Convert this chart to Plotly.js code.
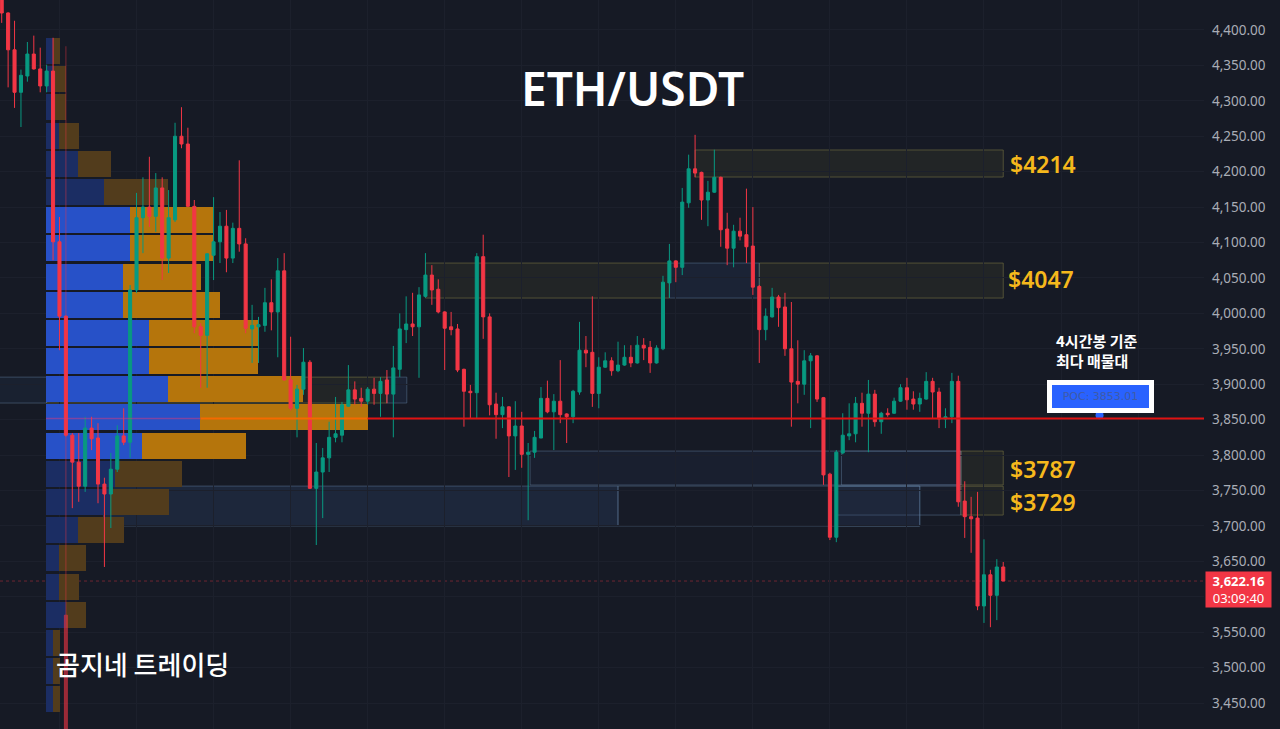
<!DOCTYPE html>
<html><head><meta charset="utf-8">
<script src="https://cdn.plot.ly/plotly-3.0.1.min.js"></script>
<style>html,body{margin:0;padding:0;background:#161a25;overflow:hidden}</style>
</head><body><div id="chart" style="width:1280px;height:729px"></div>
<script>
const openV=[4456,4424,4372,4312,4335,4366,4345,4321,4342,4101,3996,3828,3790,3756,3838,3824,3759,3745,3780,3827,
3818,4033,4135,4150,4137,4177,4078,4132,4250,4239,4151,3981,3969,4082,4101,4123,4078,4120,4098,3978,
3981,3983,4015,4002,4060,3906,3866,3893,3931,3753,3776,3796,3825,3828,3869,3892,3880,3876,3893,3887,
3906,3886,3921,3977,3985,3981,4024,4054,4034,4002,3981,3978,3921,3890,3888,4080,3995,3872,3857,3868,
3827,3841,3801,3804,3824,3880,3861,3876,3858,3854,3889,3948,3945,3887,3924,3933,3919,3927,3938,3930,
3955,3952,3930,3950,4043,4074,4065,4156,4204,4199,4160,4171,4192,4119,4092,4116,4111,4095,4038,3977,
3995,4023,4009,3950,3904,3900,3933,3940,3881,3773,3684,3803,3827,3830,3873,3859,3886,3847,3859,3859,
3876,3895,3879,3872,3879,3904,3889,3851,3854,3904,3735,3713,3711,3587,3631,3602,3642];
const closeV=[4424,4372,4312,4336,4366,4345,4321,4342,4101,3996,3828,3790,3756,3838,3823,3759,3745,3780,3827,3818,
4033,4135,4150,4137,4177,4078,4135,4250,4239,4151,3981,3969,4084,4101,4123,4078,4120,4098,3979,3983,
3984,4015,4002,4060,3906,3866,3893,3931,3753,3776,3796,3825,3830,3871,3892,3879,3876,3893,3887,3904,
3886,3923,3978,3985,3981,4026,4054,4033,4002,3979,3977,3920,3890,3888,4080,3995,3871,3857,3868,3827,
3841,3801,3804,3825,3880,3861,3876,3857,3854,3890,3948,3944,3887,3924,3933,3919,3927,3938,3930,3955,
3951,3930,3951,4044,4074,4065,4157,4204,4198,4160,4171,4192,4118,4092,4116,4109,4094,4037,3977,3996,
4023,4008,3950,3903,3900,3933,3940,3879,3772,3684,3804,3828,3830,3873,3859,3886,3847,3859,3857,3876,
3895,3878,3872,3880,3904,3889,3851,3854,3904,3734,3713,3710,3587,3631,3602,3642,3622.16];
const highV=[4471,4425,4413,4344,4383,4392,4375,4351,4389,4136,3997,3831,3831,3854,3854,3845,3768,3803,3842,3866,
4040,4170,4192,4221,4198,4192,4174,4269,4291,4262,4160,3986,4085,4164,4143,4146,4128,4216,4106,4012,
3995,4036,4048,4078,4085,3967,3899,3951,3934,3817,3810,3847,3882,3875,3927,3904,3895,3896,3909,3910,
3920,3954,4000,4024,4029,4037,4085,4068,4048,4003,4002,3985,3922,3899,4085,4111,4000,3888,3882,3869,
3876,3861,3817,3834,3896,3905,3886,3934,3859,3892,3988,3968,4024,3938,3945,3938,3960,3955,3955,3968,
3965,3961,3955,4053,4098,4075,4177,4224,4252,4200,4187,4231,4193,4142,4125,4135,4176,4150,4040,4007,
4036,4026,4029,4016,3962,3948,3944,3941,3882,3775,3807,3859,3873,3882,3888,3906,3892,3861,3866,3881,
3900,3909,3890,3888,3917,3909,3895,3866,3916,3912,3763,3741,3748,3681,3638,3653,3649];
const lowV=[4410,4319,4290,4263,4327,4344,4312,4312,4075,3948,3826,3725,3734,3748,3807,3732,3642,3697,3776,3814,
3796,4029,4085,4122,4115,4047,4057,4129,4233,4150,3972,3895,3895,4047,4071,4058,4071,4087,3972,3930,
3930,3974,3976,3938,3905,3863,3825,3885,3752,3673,3711,3776,3818,3818,3868,3871,3868,3871,3871,3854,
3873,3825,3910,3958,3968,3909,4022,4012,4000,3920,3969,3917,3840,3852,3852,3964,3856,3823,3838,3769,
3779,3782,3708,3796,3824,3859,3807,3845,3817,3845,3885,3924,3868,3866,3923,3912,3917,3926,3924,3929,
3934,3916,3929,3948,4022,4044,4054,4149,4192,4132,4123,4170,4094,4068,4065,4103,4071,4026,3930,3962,
3994,3981,3940,3840,3873,3885,3838,3875,3758,3680,3677,3801,3821,3818,3840,3804,3840,3830,3854,3858,
3875,3864,3864,3861,3878,3852,3838,3838,3845,3727,3683,3662,3581,3563,3557,3567,3622];

const ghostIndex=[10];
const ghostOpen=[3574];
const ghostClose=[3400];
const ghostHigh=[4377];
const ghostLow=[3400];

const rowPrice=[4370.4,4330.6,4290.8,4251,4211.2,4171.4,4131.6,4091.8,4052,4012.2,3972.4,3932.6,3892.8,3853,3813.2,3773.4,3733.6,3693.8,3654,3614.2,3574.4,3534.6,3494.8,3455];
const buyVolume=[7,7,7,13,32,58,84,84,77,77,103,103,122,154,96,69,64,32,13,13,20,7,7,7];
const sellVolume=[7,13,13,20,33,64,83,83,78,97,109,109,135,168,104,67,59,46,27,20,20,7,7,7];
const inValueArea=[0,0,0,0,0,0,1,1,1,1,1,1,1,1,1,0,0,0,0,0,0,0,0,0];

const tickPrices=[3450,3500,3550,3600,3650,3700,3750,3800,3850,3900,3950,4000,4050,4100,4150,4200,4250,4300,4350,4400];
const tickLabels=['3,450.00','3,500.00','3,550.00','','3,650.00','3,700.00','3,750.00','3,800.00','3,850.00','3,900.00','3,950.00','4,000.00','4,050.00','4,100.00','4,150.00','4,200.00','4,250.00','4,300.00','4,350.00','4,400.00'];
const currentPrice=3622.16;
const pocPrice=3851.5;
const zoneLabels=['$4214','$4047','$3787','$3729'];
const zoneLabelPrice=[4211,4048,3781,3734];

const oliveFrom=[108,66,118,7,149.4,149.4];
const oliveTo=[156,104,156,60,156,156];
const oliveTop=[4230.6,4071,4071,3910,3805.6,3756];
const oliveBottom=[4192.4,4021.6,4021.6,3873.4,3757.7,3715.3];
const blueFrom=[104,60,82.3,15.9,96,130,130,-1,130.8];
const blueTo=[118,63.1,149.4,96,143,149.4,143,7,149.4];
const blueTop=[4071,3910,3805.6,3756.2,3756.2,3756,3756.2,3910,3805.6];
const blueBottom=[4021.6,3873.4,3757.7,3699.8,3699.8,3715.3,3699.8,3873.4,3757.7];
const blueFill=[.2,.2,.12,.28,.03,.08,.2,.14,.02];

const UP='#089981',DOWN='#f23645',BG='#161a25',GRID='#1c202c';
const shapes=[];
oliveFrom.forEach((_,i)=>shapes.push({type:'rect',layer:'below',xref:'x2',yref:'y',x0:oliveFrom[i],x1:oliveTo[i],y0:oliveBottom[i],y1:oliveTop[i],fillcolor:'rgba(110,105,50,0.14)',line:{color:'rgba(125,122,70,0.55)',width:1}}));
blueFrom.forEach((_,i)=>shapes.push({type:'rect',layer:'below',xref:'x2',yref:'y',x0:blueFrom[i],x1:blueTo[i],y0:blueBottom[i],y1:blueTop[i],fillcolor:`rgba(50,75,120,${blueFill[i]})`,line:{color:'rgba(105,135,170,0.42)',width:1}}));
shapes.push({type:'line',layer:'below',xref:'paper',yref:'y',x0:0,x1:1,y0:currentPrice,y1:currentPrice,line:{color:'rgba(242,54,69,0.4)',width:1,dash:'dot'}});
shapes.push({type:'line',layer:'above',xref:'x2',yref:'y',x0:6.9,x1:31,y0:pocPrice,y1:pocPrice,line:{color:'rgba(200,60,130,0.55)',width:1.5}});
shapes.push({type:'line',layer:'above',xref:'x2',yref:'y',x0:31,x1:57,y0:pocPrice,y1:pocPrice,line:{color:'#f46a00',width:2}});
shapes.push({type:'line',layer:'above',xref:'x2',yref:'y',x0:57,x1:188,y0:pocPrice,y1:pocPrice,line:{color:'#e01212',width:2}});

const idx=openV.map((_,i)=>i);
const dimBlue='#1b2d63',fullBlue='#2751c8',dimOrange='#523c1c',fullOrange='#b5750c';
const traces=[
 {type:'bar',orientation:'h',y:rowPrice,x:buyVolume,width:36.7,xaxis:'x',yaxis:'y',hoverinfo:'skip',marker:{color:inValueArea.map(v=>v?fullBlue:dimBlue),line:{width:0}}},
 {type:'bar',orientation:'h',y:rowPrice,x:sellVolume,width:36.7,xaxis:'x',yaxis:'y',hoverinfo:'skip',marker:{color:inValueArea.map(v=>v?fullOrange:dimOrange),line:{width:0}}},
 {type:'candlestick',x:ghostIndex,open:ghostOpen,close:ghostClose,high:ghostHigh,low:ghostLow,xaxis:'x2',yaxis:'y',hoverinfo:'skip',
  decreasing:{line:{color:'rgba(242,54,69,0.45)',width:1},fillcolor:'rgba(242,54,69,0.6)'},increasing:{line:{color:UP,width:1},fillcolor:UP}},
 {type:'candlestick',x:idx,open:openV,close:closeV,high:highV,low:lowV,xaxis:'x2',yaxis:'y',hoverinfo:'skip',whiskerwidth:0,
  decreasing:{line:{color:DOWN,width:1},fillcolor:DOWN},increasing:{line:{color:UP,width:1},fillcolor:UP}},
 {type:'scatter',mode:'markers',x:[171],y:[3856],xaxis:'x2',yaxis:'y',hoverinfo:'skip',marker:{color:'#2962ff',size:8,symbol:'circle'}}
];

const goldFont={family:'"Noto Sans","Open Sans",sans-serif',size:23,color:'#f5b81c',weight:600};
const koFont=(s,w)=>({family:'"Noto Sans CJK KR","Noto Sans",sans-serif',size:s,color:'#ffffff',weight:w});
const annotations=[
 {xref:'paper',yref:'paper',x:632/1204,y:1-88/729,xanchor:'center',yanchor:'middle',text:'ETH/USDT',showarrow:false,font:{family:'"Noto Sans","Open Sans",sans-serif',size:46,color:'#ffffff',weight:600}},
 {xref:'paper',yref:'paper',x:142/1204,y:1-663/729,xanchor:'center',yanchor:'middle',text:'곰지네 트레이딩',showarrow:false,font:koFont(26,500)},
 {xref:'paper',yref:'paper',x:1054/1204,y:1-350/729,xanchor:'left',yanchor:'middle',align:'left',text:'4시간봉 기준<br>최다 매물대',showarrow:false,font:koFont(15,600)},
 {xref:'x2',yref:'y',x:171.1,y:3882.6,xanchor:'center',yanchor:'middle',text:'POC: 3853.01',showarrow:false,bgcolor:'#2962ff',bordercolor:'#ffffff',borderwidth:5,borderpad:0,width:97,height:23,font:{family:'"DejaVu Sans",sans-serif',size:11,color:'#3f5ba8'}},
 {xref:'paper',yref:'paper',x:1,xshift:1,xanchor:'left',y:1-589/729,yanchor:'middle',text:'<b>3,622.16</b><br>03:09:40',showarrow:false,bgcolor:'#f23645',width:65,height:35,borderpad:0,font:{family:'"Noto Sans",sans-serif',size:13,color:'#ffffff'}}
];
zoneLabels.forEach((t,i)=>annotations.push({xref:'x2',yref:'y',x:[156.7,156.5,156.8,156.7][i],xanchor:'left',yanchor:'middle',y:zoneLabelPrice[i],text:t,showarrow:false,font:goldFont}));

const layout={width:1280,height:729,margin:{l:0,r:76,t:0,b:0,pad:0},paper_bgcolor:BG,plot_bgcolor:BG,showlegend:false,
 barmode:'stack',boxgap:0.32,dragmode:false,shapes,annotations,
 xaxis:{range:[-46,1158],showgrid:false,zeroline:false,showticklabels:false,ticks:'',showline:false,fixedrange:true},
 xaxis2:{overlaying:'x',range:[-0.265,187.27],showgrid:true,gridcolor:GRID,gridwidth:1,tick0:21,dtick:12,zeroline:false,showticklabels:false,ticks:'',showline:false,fixedrange:true,rangeslider:{visible:false}},
 yaxis:{side:'right',range:[3413.3,4442.3],tickmode:'array',tickvals:tickPrices,ticktext:tickLabels,ticklabelstandoff:7,gridcolor:GRID,gridwidth:1,zeroline:false,showline:false,ticks:'',tickfont:{family:'"Noto Sans",sans-serif',size:13.5,color:'#a9adb6'},automargin:false,fixedrange:true}
};
Plotly.newPlot('chart',traces,layout,{displayModeBar:false,staticPlot:true});
</script></body></html>
